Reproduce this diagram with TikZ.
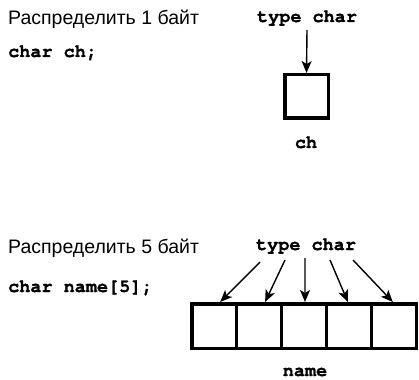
\documentclass[tikz,border=0pt]{standalone}
\usepackage{fontspec}
\setmainfont{Liberation Sans}
\newfontfamily\codefont[FakeBold=1.2]{texgyrecursor-bold.otf}
\usetikzlibrary{arrows.meta}
\begin{document}
\begin{tikzpicture}[x=1pt,y=-1pt,
  ru/.style={font=\fontsize{19.5}{22}\selectfont, inner sep=0, anchor=base west},
  code/.style={font=\codefont\fontsize{18.5}{22}\selectfont, inner sep=0},
  cell/.style={draw, line width=3.5pt, minimum width=44.9pt, minimum height=44.5pt, inner sep=0},
  arr/.style={-{Stealth[length=12pt,width=10pt,inset=3pt]}, line width=1.4pt}]
\useasboundingbox (0,0) rectangle (419,379);
% top part
\node[ru] (t1) at (8,25) {Распределить 1 байт};
\node[code, anchor=base west] (c1) at (8,57) {char ch;};
\node[code, anchor=base] (ty1) at (307,22) {type char};
\node[cell, minimum width=43.5pt, minimum height=43.5pt] (ch) at (306.5,96.5) {};
\node[code, anchor=base] (lch) at (306,148) {ch};
\coordinate (s0) at (307,30);
\draw[arr] (s0) -- (ch.north);
% bottom part
\node[ru] (t2) at (8,253) {Распределить 5 байт};
\node[code, anchor=base west] (c2) at (8,292) {char name[5];};
\node[code, anchor=base] (ty2) at (306,250) {type char};
\foreach \i in {1,...,5}{
  \node[cell] (n\i) at ({191.75+44.9*(\i-0.5)},326) {};
}
\node[code, anchor=base] (lname) at (305,376) {name};
\coordinate (a1) at (260,262);
\coordinate (a2) at (285,260);
\coordinate (a3) at (305,258);
\coordinate (a4) at (330,260);
\coordinate (a5) at (353,260);
\draw[arr] (a1) -- ([xshift=6pt]n1.north);
\draw[arr] (a2) -- ([xshift=6pt]n2.north);
\draw[arr] (a3) -- ([xshift=1pt]n3.north);
\draw[arr] (a4) -- ([xshift=-1pt]n4.north);
\draw[arr] (a5) -- ([xshift=-1pt]n5.north);
\end{tikzpicture}
\end{document}
